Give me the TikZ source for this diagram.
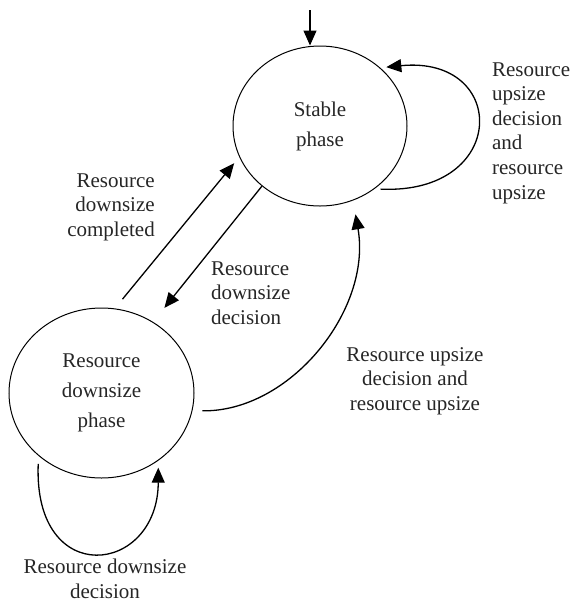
\documentclass[tikz,border=0pt]{standalone}
\usepackage{fontspec}
\setmainfont{Liberation Serif}
\usepackage{tikz}
\usetikzlibrary{arrows.meta,positioning,calc,shapes.geometric}

\tikzset{
  phase/.style={ellipse,draw,line width=.5pt,inner sep=0pt,align=center,
    text=black!85,font=\fontsize{10.5}{15}\selectfont},
  trans/.style={-{Triangle[length=7.5pt,width=6.5pt]},line width=.65pt},
  lbl/.style={text=black!85,font=\fontsize{10.5}{12.3}\selectfont}
}

\begin{document}
\begin{tikzpicture}[x=.5pt,y=-.5pt]
  \useasboundingbox (0,0) rectangle (571,601);
  \node[phase,minimum width=87pt,minimum height=80pt] (stable) at (320,126) {Stable\\phase};
  \node[phase,minimum width=92.5pt,minimum height=85pt] (down) at (101.5,393) {Resource\\downsize\\phase};
  \coordinate (init) at (310,10);

  \draw[trans] (init) -- (init |- stable.north);
  \draw[trans,shorten <=3pt,shorten >=3pt] (stable.-49) .. controls (509,195) and (509,55) .. (stable.44);
  \draw[trans,shorten <=6pt,shorten >=4pt] (down.81) -- (stable.201);
  \draw[trans,shorten >=9pt] (stable.226) -- (down.54);
  \draw[trans,shorten <=5pt,shorten >=7pt] (down.-11) .. controls (290,412) and (372,310) .. (stable.-66);
  \draw[trans,shorten <=4pt,shorten >=3.5pt] (down.225) .. controls (33,590) and (158,575) .. (down.-50);

  \node[lbl,align=right] (lcompl) at (111,207) {Resource\\downsize\\completed};
  \node[lbl,align=left,anchor=west] (ldec) at (204,293) {Resource\\downsize\\decision};
  \node[lbl,align=center] (lup) at (415,381) {Resource upsize\\decision and\\resource upsize};
  \node[lbl,align=left,anchor=west] (lloop) at (485,133) {Resource\\upsize\\decision\\and\\resource\\upsize};
  \node[lbl,align=center,inner sep=1pt] (ldloop) at (105,579) {Resource downsize\\decision};
\end{tikzpicture}
\end{document}
